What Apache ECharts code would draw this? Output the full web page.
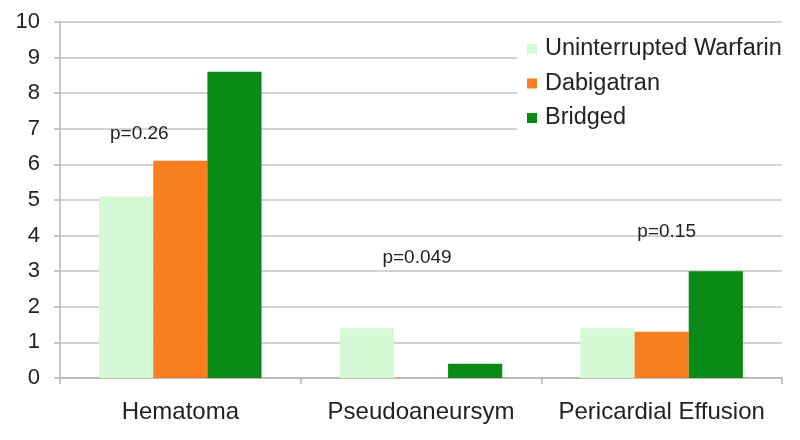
<!DOCTYPE html>
<html>
<head>
<meta charset="utf-8">
<script src="https://cdn.jsdelivr.net/npm/echarts@6/dist/echarts.min.js"></script>
<style>
  html, body { margin: 0; padding: 0; background: #fff; }
  #chart { width: 800px; height: 440px; }
</style>
</head>
<body>
<div id="chart"></div>
<script>
const categories = ["Hematoma", "Pseudoaneursym", "Pericardial Effusion"];
const warfarin = [5.1, 1.4, 1.4];
const dabigatran = [6.1, 0, 1.3];
const bridged = [8.6, 0.4, 3.0];
const pLabels = ["p=0.26", "p=0.049", "p=0.15"];
const pHeights = [6.85, 3.37, 4.1];
const pShift = [-41, -4, 5];

const font = "Liberation Sans, Arial, sans-serif";
const chart = echarts.init(document.getElementById("chart"));

function bar(name, data, color) {
  return {
    name: name,
    type: "bar",
    data: data,
    barGap: "0%",
    barCategoryGap: "32.5%",
    itemStyle: { color: color },
    emphasis: { disabled: true },
  };
}

chart.setOption({
  animation: false,
  backgroundColor: "#fff",
  textStyle: { fontFamily: font },
  grid: { left: 60, right: 18, top: 22, bottom: 62 },
  legend: {
    orient: "vertical",
    left: 517,
    top: 29,
    backgroundColor: "#fff",
    padding: [8, 10, 8, 10],
    itemWidth: 10,
    itemHeight: 10,
    itemGap: 10.5,
    icon: "rect",
    textStyle: {
      fontSize: 23.5,
      color: "#222",
      lineHeight: 24,
      fontFamily: font,
      padding: [0, 0, 0, 3],
    },
    z: 10,
  },
  xAxis: {
    type: "category",
    data: categories,
    axisLine: { lineStyle: { color: "#b4b4b4", width: 1.5 } },
    axisTick: { show: true, length: 6, lineStyle: { color: "#b4b4b4", width: 1.5 } },
    axisLabel: { fontSize: 24, color: "#222", margin: 22, interval: 0 },
  },
  yAxis: {
    type: "value",
    min: 0,
    max: 10,
    interval: 1,
    axisLine: { show: true, lineStyle: { color: "#b4b4b4", width: 1.5 } },
    axisTick: { show: true, length: 6, lineStyle: { color: "#b4b4b4", width: 1.5 } },
    axisLabel: { fontSize: 22, color: "#222", margin: 20 },
    splitLine: { lineStyle: { color: "#c4c4c4", width: 1.5 } },
  },
  series: [
    bar("Uninterrupted Warfarin", warfarin, "#d5f8d5"),
    bar("Dabigatran", dabigatran, "#f97e21"),
    bar("Bridged", bridged, "#078a16"),
  ],
});

const texts = pLabels.map(function (label, i) {
  const pt = chart.convertToPixel({ xAxisIndex: 0, yAxisIndex: 0 }, [categories[i], pHeights[i]]);
  return {
    type: "text",
    x: pt[0] + pShift[i],
    y: pt[1],
    z: 20,
    style: {
      text: label,
      fontSize: 19,
      fontFamily: font,
      fill: "#222",
      align: "center",
      verticalAlign: "middle",
    },
  };
});
chart.setOption({ graphic: texts });
</script>
</body>
</html>
